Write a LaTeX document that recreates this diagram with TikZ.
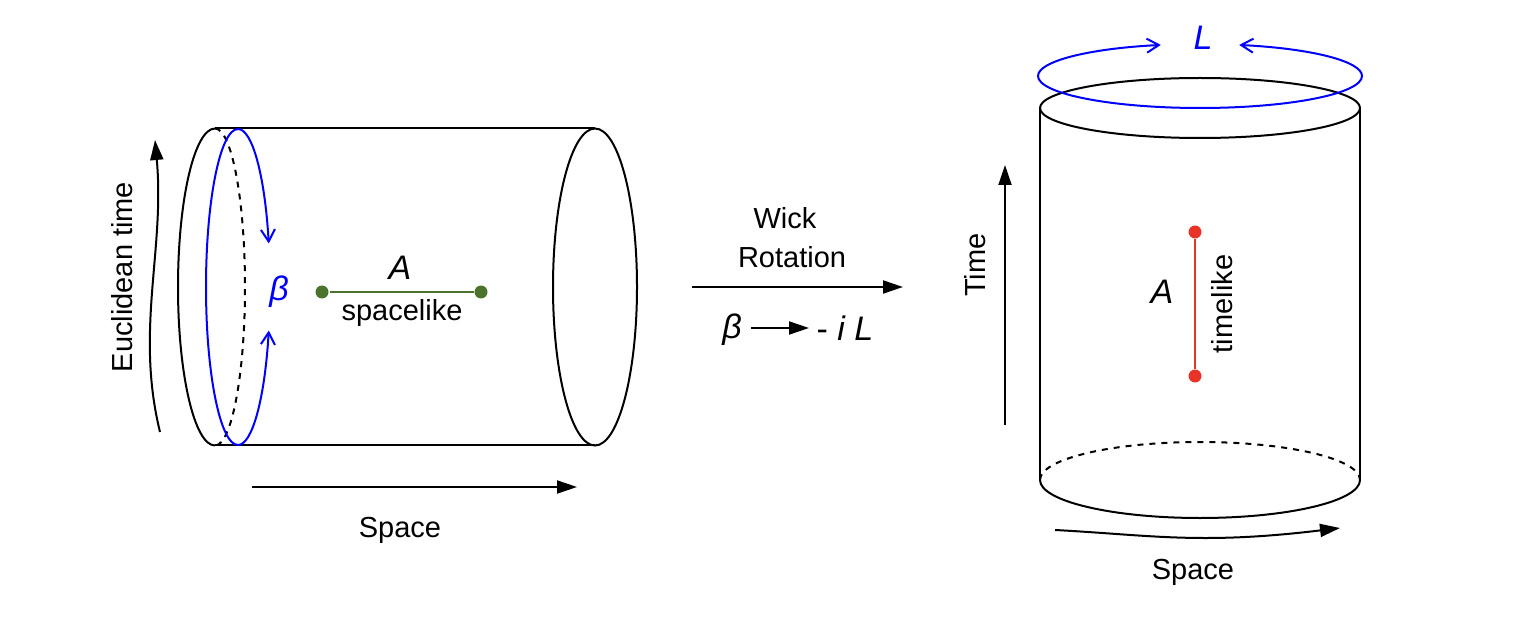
\documentclass[tikz,border=0pt]{standalone}
\usepackage{fontspec}
\setmainfont{Liberation Sans}
\usetikzlibrary{arrows.meta}
\definecolor{sgreen}{RGB}{75,115,45}
\definecolor{tred}{RGB}{232,52,40}
\begin{document}
\begin{tikzpicture}[x=0.5pt,y=-0.5pt,line width=1pt,
  lbl/.style={font=\fontsize{14.5}{17}\selectfont},
  ital/.style={font=\fontsize{17}{20}\selectfont\itshape},
  arr/.style={-{Triangle[length=10pt,width=6.5pt]}},
  barr/.style={blue,-{Straight Barb[length=6pt,width=7pt]}},
  dot/.style={circle,fill,inner sep=0pt,minimum size=6.5pt}]
\path[use as bounding box] (0,0) rectangle (1520,620);
% left cylinder
\draw (215,128) -- (595,128);
\draw (215,445) -- (595,445);
\draw (215,445.5) arc[start angle=90,end angle=270,x radius=37,y radius=158.5];
\draw[dashed] (215,128.5) arc[start angle=-90,end angle=90,x radius=30,y radius=158.5];
\draw (595,287) ellipse[x radius=42,y radius=158.5];
\draw[blue] (238,445) arc[start angle=90,end angle=270,x radius=32,y radius=158];
\draw[barr] (238,129) arc[start angle=-90,end angle=-16,x radius=32,y radius=158];
\draw[barr] (238,445) arc[start angle=90,end angle=16,x radius=32,y radius=158];
\node[ital,blue] (beta) at (279,292) {β};
\node[dot,fill=sgreen] (a1) at (322,292) {};
\node[dot,fill=sgreen] (a2) at (481,292) {};
\draw[sgreen] (a1) -- (a2);
\node[ital] (A1) at (400,268) {A};
\node[lbl] (sl) at (402,313) {spacelike};
\draw[arr] (160,432) .. controls (135,330) and (165,250) .. (155,140);
\node[lbl,rotate=90] (et) at (122,277) {Euclidean time};
\coordinate (s1a) at (252,487); \coordinate (s1b) at (577,487);
\draw[arr] (s1a) -- (s1b);
\node[lbl] (sp1) at (400,530) {Space};
% middle
\coordinate (w1) at (692,287); \coordinate (w2) at (903,287);
\draw[arr] (w1) -- (w2);
\node[lbl] (wick) at (785,218) {Wick};
\node[lbl] (rot) at (792,257) {Rotation};
\node[ital] (mb) at (732,330) {β};
\node[ital] (mil) at (845,328) {\upshape - \itshape i L};
\draw[arr] (mb.east) ++(2,-2) coordinate (m1) -- (m1 -| mil.west);
% right cylinder
\draw (1200,108) ellipse[x radius=160,y radius=30];
\draw (1040,108) -- (1040,480);
\draw (1360,108) -- (1360,480);
\draw (1360,480) arc[start angle=0,end angle=180,x radius=160,y radius=38];
\draw[dashed] (1040,480) arc[start angle=180,end angle=360,x radius=160,y radius=38];
\draw[blue] (1362,76) arc[start angle=0,end angle=180,x radius=162,y radius=32];
\draw[barr] (1038,76) arc[start angle=-180,end angle=-104,x radius=162,y radius=32];
\draw[barr] (1362,76) arc[start angle=0,end angle=-76,x radius=162,y radius=32];
\node[ital,blue] (L) at (1203,38) {L};
\node[dot,fill=tred] (r1) at (1195,232) {};
\node[dot,fill=tred] (r2) at (1195,376) {};
\draw[tred] (r1) -- (r2);
\node[ital] (A2) at (1162,292) {A};
\node[lbl,rotate=90] (tl) at (1222,304) {timelike};
\coordinate (t1) at (1005,425); \coordinate (t2) at (1005,165);
\draw[arr] (t1) -- (t2);
\node[lbl,rotate=90] (time) at (975,265) {Time};
\draw[arr] (1055,530) .. controls (1150,535) and (1200,545) .. (1340,528);
\node[lbl] (sp2) at (1193,572) {Space};
\end{tikzpicture}
\end{document}
